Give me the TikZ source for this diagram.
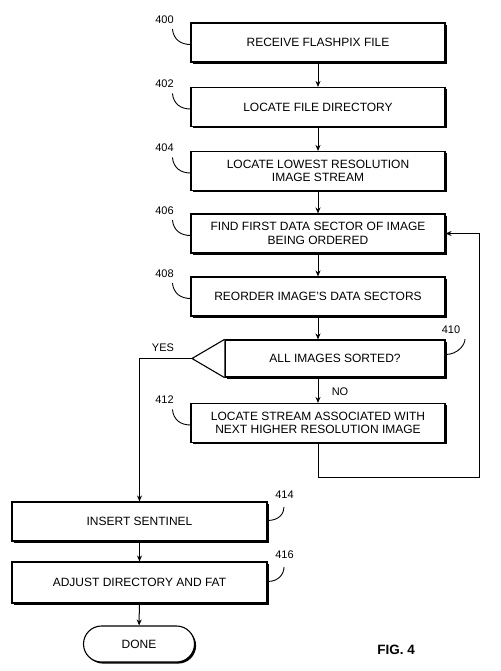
\documentclass[tikz,border=0pt]{standalone}
\usepackage{fontspec}
\setmainfont{Liberation Sans}
\usetikzlibrary{shadows,arrows.meta,calc}
\begin{document}
\begin{tikzpicture}[x=1pt,y=-1pt,
  every node/.style={font=\fontsize{12}{13.5}\selectfont},
  stepbox/.style={draw=black,line width=1.1pt,fill=white,align=center,
    minimum width=254pt,minimum height=39pt,inner sep=0pt,
    drop shadow={shadow xshift=1.6pt,shadow yshift=-1.6pt,fill=black,opacity=1}},
  reflabel/.style={font=\fontsize{11}{12}\selectfont},
  lead/.style={line width=0.9pt},
  arr/.style={line width=1pt,-{Stealth[length=6pt,width=5pt]}},
  conn/.style={line width=1pt}]
\useasboundingbox (0,0) rectangle (500,671);
% boxes
\node[stepbox] (b400) at (318,42.5) {RECEIVE FLASHPIX FILE};
\node[stepbox] (b402) at (318,107) {LOCATE FILE DIRECTORY};
\node[stepbox] (b404) at (318,171) {LOCATE LOWEST RESOLUTION\\IMAGE STREAM};
\node[stepbox] (b406) at (318,233.5) {FIND FIRST DATA SECTOR OF IMAGE\\BEING ORDERED};
\node[stepbox] (b408) at (318,296.5) {REORDER IMAGE'S DATA SECTORS};
\node[stepbox,minimum width=220pt,minimum height=37pt] (b410) at (335,358.5) {ALL IMAGES SORTED?};
\coordinate (tip) at (192,358.5);
\draw[line width=1.1pt,fill=white] (b410.north west) -- (tip) -- (b410.south west);
\node[stepbox] (b412) at (318,423) {LOCATE STREAM ASSOCIATED WITH\\NEXT HIGHER RESOLUTION IMAGE};
\node[stepbox,minimum width=255pt] (b414) at (139.5,521.5) {INSERT SENTINEL};
\node[stepbox,minimum width=255pt,minimum height=41pt] (b416) at (139.5,582.5) {ADJUST DIRECTORY AND FAT};
\node[stepbox,minimum width=111pt,minimum height=36pt,rounded corners=18pt] (done) at (139,644) {DONE};
% connectors
\draw[arr] (b400) -- (b402);
\draw[arr] (b402) -- (b404);
\draw[arr] (b404) -- (b406);
\draw[arr] (b406) -- (b408);
\draw[arr] (b408.south) -- (b408.south |- b410.north);
\draw[arr] (b408.south |- b410.south) -- (b412.north);
\coordinate (loopr) at (479,477);
\draw[arr] (b412.south) |- (loopr) |- (b406.east);
\draw[arr] (tip) -| (b414.north);
\draw[arr] (b414) -- (b416);
\draw[arr] (b416) -- (done);
% branch labels
\node[font=\fontsize{11}{12}\selectfont] (yes) at (163,348) {YES};
\node[font=\fontsize{11}{12}\selectfont] (no) at (340,392) {NO};
% reference labels (left)
\foreach \b in {400,402,404,406,408,412}{
  \node[reflabel] (l\b) at ($(b\b.west)+(-26,-23)$) {\b};
  \draw[lead] ($(b\b.west)+(-18,-13.5)$) .. controls +(1,11) and +(-9,0) .. ($(b\b.west)+(0,2)$);
}
% reference labels (right)
\node[reflabel] (l410) at (451,330) {410};
\draw[lead] ($(b410.east)+(0,-4)$) .. controls +(12,0) and +(0,6) .. (465,339);
\node[reflabel] (l414) at (284.5,495) {414};
\draw[lead] ($(b414.east)+(0,-1)$) .. controls +(12,0) and +(0,6) .. (284,507);
\node[reflabel] (l416) at (284.5,555) {416};
\draw[lead] ($(b416.east)+(0,-1)$) .. controls +(12,0) and +(0,6) .. (284,567);
% figure label
\node[font=\bfseries\fontsize{13.5}{15}\selectfont] (fig) at (396,650) {FIG. 4};
\end{tikzpicture}
\end{document}
